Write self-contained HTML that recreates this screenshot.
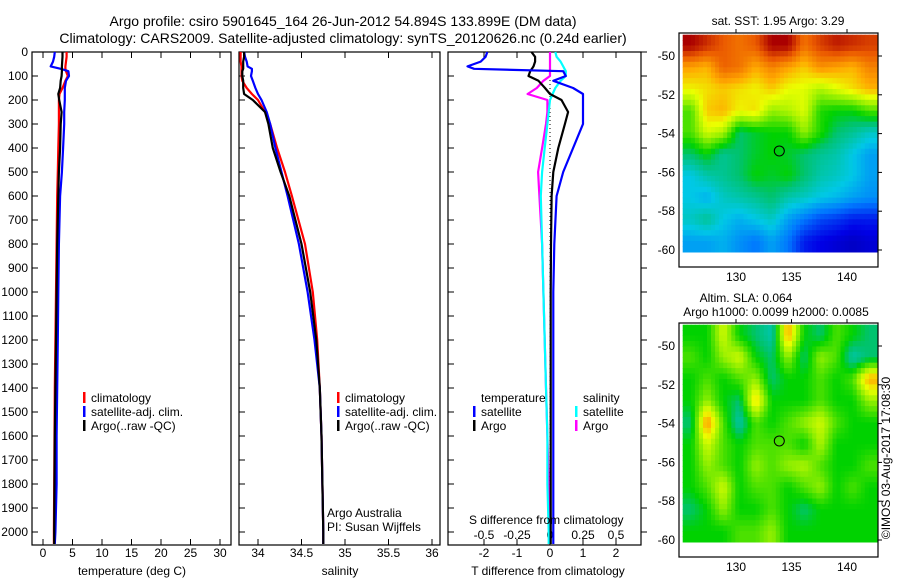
<!DOCTYPE html>
<html><head><meta charset="utf-8"><style>
body{margin:0;background:#fff;}
svg{display:block;font-family:"Liberation Sans",sans-serif;}
text{fill:#000;}
</style></head><body>
<svg id="fig" width="900" height="580" viewBox="0 0 900 580">
<rect x="0" y="0" width="900" height="580" fill="#fff"/>
<text x="343" y="26" font-size="14" text-anchor="middle">Argo profile: csiro 5901645_164 26-Jun-2012 54.894S 133.899E (DM data)</text>
<text x="343" y="43" font-size="14" text-anchor="middle">Climatology: CARS2009. Satellite-adjusted climatology: synTS_20120626.nc (0.24d earlier)</text>
<g id="plots"></g>
<g font-size="12">
<rect x="83" y="392" width="2.5" height="11" fill="#f00"/><text x="91" y="402">climatology</text>
<rect x="83" y="406" width="2.5" height="11" fill="#00f"/><text x="91" y="416">satellite-adj. clim.</text>
<rect x="83" y="420" width="2.5" height="11" fill="#000"/><text x="91" y="430">Argo(..raw -QC)</text>
</g>
<g font-size="12">
<rect x="337" y="392" width="2.5" height="11" fill="#f00"/><text x="345" y="402">climatology</text>
<rect x="337" y="406" width="2.5" height="11" fill="#00f"/><text x="345" y="416">satellite-adj. clim.</text>
<rect x="337" y="420" width="2.5" height="11" fill="#000"/><text x="345" y="430">Argo(..raw -QC)</text>
</g>
<g font-size="12">
<text x="481" y="402">temperature</text><text x="583" y="402">salinity</text>
<rect x="473" y="406" width="2.5" height="11" fill="#00f"/><text x="481" y="416">satellite</text>
<rect x="473" y="420" width="2.5" height="11" fill="#000"/><text x="481" y="430">Argo</text>
<rect x="575" y="406" width="2.5" height="11" fill="#0ff"/><text x="583" y="416">satellite</text>
<rect x="575" y="420" width="2.5" height="11" fill="#f0f"/><text x="583" y="430">Argo</text>
</g>
<text x="327" y="517" font-size="12">Argo Australia</text>
<text x="327" y="531" font-size="12">PI: Susan Wijffels</text>
<text x="469" y="524" font-size="12">S difference from climatology</text>
<text x="132" y="575" font-size="12" text-anchor="middle">temperature (deg C)</text>
<text x="340" y="575" font-size="12" text-anchor="middle">salinity</text>
<text x="548" y="575" font-size="12" text-anchor="middle">T difference from climatology</text>
<text x="778" y="25" font-size="12" text-anchor="middle">sat. SST: 1.95 Argo: 3.29</text>
<text x="746" y="302" font-size="12" text-anchor="middle">Altim. SLA: 0.064</text>
<text x="776" y="316" font-size="12" text-anchor="middle">Argo h1000: 0.0099 h2000: 0.0085</text>
<text x="0" y="0" font-size="12" text-anchor="middle" transform="translate(890,458) rotate(-90)">©IMOS 03-Aug-2017 17:08:30</text>
</svg>
<script>
const depths=[0,20,40,60,70,80,100,120,150,175,200,250,300,400,500,600,800,1000,1200,1400,1600,1800,2000,2050];
const tempClim=[4.0,4.0,3.9,3.8,3.8,3.9,4.2,3.8,3.3,2.8,2.7,2.7,2.7,2.6,2.5,2.4,2.3,2.2,2.1,2.0,1.95,1.9,1.85,1.85];
const tempSat=[2.0,1.9,1.7,1.3,3.0,4.3,4.4,3.9,3.7,3.7,3.7,3.6,3.6,3.4,3.2,2.9,2.7,2.6,2.5,2.4,2.3,2.3,2.1,2.0];
const tempArgo=[3.3,3.3,3.25,3.2,3.2,3.2,3.15,3.0,2.9,2.6,2.75,3.15,3.0,2.9,2.7,2.6,2.4,2.3,2.2,2.1,2.0,1.95,1.9,1.9];
const salClim=[33.80,33.80,33.80,33.81,33.81,33.81,33.81,33.82,33.87,33.93,34.0,34.08,34.14,34.22,34.31,34.39,34.54,34.63,34.68,34.71,34.73,34.74,34.75,34.75];
const salSat=[33.84,33.85,33.87,33.88,33.93,33.93,33.92,33.94,33.97,34.0,34.04,34.1,34.14,34.2,34.27,34.34,34.47,34.57,34.65,34.71,34.73,34.74,34.75,34.75];
const salArgo=[33.84,33.84,33.83,33.83,33.83,33.82,33.82,33.83,33.83,33.84,33.94,34.08,34.12,34.17,34.26,34.36,34.50,34.60,34.67,34.71,34.73,34.74,34.75,34.75];
const tDiffSat=[-1.9,-1.95,-2.1,-2.5,-2.3,0.4,0.48,0.1,0.7,1.0,1.0,1.0,1.0,0.7,0.4,0.2,0.13,0.1,0.1,0.1,0.1,0.1,0.1,0.1];
const tDiffArgo=[-0.56,-0.45,-0.45,-0.5,-0.55,-0.6,-0.65,-0.35,-0.15,0.0,0.35,0.55,0.45,0.25,0.1,0.05,0.03,0.02,0.02,0.02,0.02,0.02,0.02,0.02];
const sDiffSat=[0.04,0.05,0.08,0.1,0.11,0.12,0.12,0.08,0.04,0.02,0.0,-0.01,-0.02,-0.04,-0.06,-0.07,-0.06,-0.05,-0.04,-0.03,-0.02,-0.02,-0.01,-0.01];
const sDiffArgo=[0.0,0.0,0.0,0.0,0.0,0.0,0.0,-0.05,-0.1,-0.17,-0.02,-0.02,-0.03,-0.06,-0.09,-0.08,-0.06,-0.05,-0.04,-0.03,-0.02,-0.01,0.0,0.0];
const depthTicks=[0,100,200,300,400,500,600,700,800,900,1000,1100,1200,1300,1400,1500,1600,1700,1800,1900,2000];
const tempTicks=[0,5,10,15,20,25,30];
const salTicks=[34,34.5,35,35.5,36];
const tDiffTicks=[-2,-1,0,1,2];
const sDiffTicks=[-0.5,-0.25,0,0.25,0.5];
const sstGrid=[
[0.95,0.9,0.85,0.82,0.85,0.95,0.95,0.82,0.88,0.92,0.9,0.88],
[0.76,0.74,0.84,0.82,0.75,0.8,0.76,0.72,0.78,0.76,0.74,0.8],
[0.68,0.7,0.72,0.7,0.68,0.72,0.67,0.66,0.62,0.66,0.7,0.74],
[0.55,0.72,0.74,0.68,0.7,0.6,0.62,0.66,0.52,0.5,0.5,0.55],
[0.55,0.65,0.62,0.45,0.48,0.5,0.5,0.6,0.52,0.45,0.42,0.38],
[0.45,0.5,0.42,0.45,0.48,0.5,0.48,0.45,0.42,0.4,0.35,0.3],
[0.35,0.4,0.42,0.45,0.5,0.48,0.5,0.45,0.4,0.38,0.35,0.3],
[0.35,0.32,0.38,0.4,0.42,0.45,0.4,0.38,0.35,0.33,0.3,0.28],
[0.38,0.42,0.35,0.32,0.35,0.38,0.3,0.25,0.2,0.18,0.15,0.15],
[0.3,0.3,0.32,0.28,0.25,0.3,0.25,0.15,0.12,0.1,0.08,0.1]];
const slaGrid=[
[0.5,0.5,0.65,0.5,0.45,0.4,0.75,0.5,0.45,0.55,0.5,0.45],
[0.55,0.5,0.6,0.65,0.5,0.45,0.6,0.45,0.6,0.55,0.4,0.45],
[0.5,0.55,0.5,0.55,0.6,0.45,0.5,0.5,0.55,0.5,0.55,0.75],
[0.5,0.6,0.5,0.45,0.72,0.5,0.5,0.5,0.55,0.5,0.5,0.6],
[0.45,0.78,0.55,0.4,0.55,0.5,0.55,0.6,0.65,0.55,0.5,0.5],
[0.5,0.65,0.55,0.5,0.55,0.55,0.55,0.5,0.62,0.5,0.5,0.5],
[0.5,0.6,0.55,0.5,0.6,0.55,0.6,0.62,0.55,0.5,0.5,0.55],
[0.5,0.55,0.65,0.5,0.55,0.55,0.5,0.55,0.6,0.5,0.55,0.5],
[0.45,0.5,0.6,0.5,0.5,0.55,0.5,0.45,0.5,0.5,0.5,0.5],
[0.5,0.5,0.5,0.55,0.55,0.6,0.5,0.5,0.5,0.5,0.5,0.5]];
const lonTicks=[130,135,140];
const latTicks=[-50,-52,-54,-56,-58,-60];
const argoLon=[133.9];
const argoLat=[-54.894];

const NS='http://www.w3.org/2000/svg';
const root=document.getElementById('plots');
function mk(tag,attrs,parent){const e=document.createElementNS(NS,tag);for(const k in attrs)e.setAttribute(k,attrs[k]);(parent||root).appendChild(e);return e;}
const Y0=52,Y1=545;
const yD=d=>Y0+d*0.24;
function lin(d0,d1,r0,r1){return v=>r0+(v-d0)/(d1-d0)*(r1-r0);}

function panel(name,x0,x1,xs,ticks,fmt,showY){
  const g=mk('g',{});
  
  
  for(const t of ticks){
    const x=xs(t);
    const a=mk('line',{x1:x,x2:x,y1:Y0,y2:Y0+6,stroke:'#000'},g);
    
    
    const b=mk('line',{x1:x,x2:x,y1:Y1,y2:Y1-6,stroke:'#000'},g);
    
    
    const l=mk('text',{x:x,y:557,'font-size':12,'text-anchor':'middle'},g);
    
    
    l.textContent=fmt(t);
  }
  for(const d of depthTicks){
    const y=yD(d);
    const a=mk('line',{x1:x0,x2:x0+6,y1:y,y2:y,stroke:'#000'},g);
    
    
    if(showY){
      const l=mk('text',{x:x0-4,y:y+4,'font-size':12,'text-anchor':'end'},g);
      
      
      l.textContent=d;
    }
  }
  const r=mk('rect',{x:x0,y:Y0,width:x1-x0,height:Y1-Y0,fill:'none',stroke:'#000','stroke-width':1.2},g);
  
  
  return g;
}
function line(g,vals,xs,color,name,w){
  const pts=vals.map((v,i)=>xs(v).toFixed(1)+','+yD(depths[i]).toFixed(1)).join(' ');
  const p=mk('polyline',{points:pts,fill:'none',stroke:color,'stroke-width':w||2.2,'stroke-linejoin':'round'},g);
  
  
}
const xT=lin(0,30,43,220);
const p1=panel('temperature-panel',32,231,xT,tempTicks,t=>t,true);
line(p1,tempClim,xT,'#f00','temp-climatology-line');
line(p1,tempSat,xT,'#00f','temp-satellite-line');
line(p1,tempArgo,xT,'#000','temp-argo-line');
const xS=lin(34,36,258,432);
const p2=panel('salinity-panel',239,440,xS,salTicks,t=>t,false);
line(p2,salClim,xS,'#f00','sal-climatology-line');
line(p2,salSat,xS,'#00f','sal-satellite-line');
line(p2,salArgo,xS,'#000','sal-argo-line');
const xTD=lin(0,2,550,616);
const xSD=lin(0,0.5,550,616);
const p3=panel('difference-panel',448,641,xTD,tDiffTicks,t=>t,false);
for(const t of sDiffTicks){
  const l=mk('text',{x:xSD(t),y:539,'font-size':12,'text-anchor':'middle'},p3);
  
  
  l.textContent=t;
}
const zl=mk('line',{x1:xTD(0),x2:xTD(0),y1:Y0,y2:Y1,stroke:'#000','stroke-dasharray':'1,3'},p3);


line(p3,sDiffArgo,xSD,'#f0f','s-diff-argo-line');
line(p3,sDiffSat,xSD,'#0ff','s-diff-satellite-line');
line(p3,tDiffArgo,xTD,'#000','t-diff-argo-line');
line(p3,tDiffSat,xTD,'#00f','t-diff-satellite-line');
for(const d of depthTicks){
  const a=mk('line',{x1:641,x2:647,y1:yD(d),y2:yD(d),stroke:'#000'},p3);
  
  
}

const cmStops=[[0,[0,0,130]],[0.12,[0,0,230]],[0.25,[0,120,255]],[0.35,[0,200,230]],[0.45,[0,195,110]],[0.5,[0,210,0]],[0.6,[150,240,0]],[0.67,[235,255,0]],[0.75,[255,170,0]],[0.85,[235,90,0]],[0.95,[170,0,0]],[1,[140,0,0]]];
function cmap(v){
  v=Math.max(0,Math.min(1,v));
  for(let i=1;i<cmStops.length;i++){
    if(v<=cmStops[i][0]){
      const [a,ca]=cmStops[i-1],[b,cb]=cmStops[i];const f=(v-a)/(b-a);
      return 'rgb('+ca.map((c,k)=>Math.round(c+(cb[k]-c)*f)).join(',')+')';
    }
  }
  return 'rgb(140,0,0)';
}
function sample(grid,fi,fj){
  const nr=grid.length,nc=grid[0].length;
  const i=Math.max(0,Math.min(nr-1,fi)),j=Math.max(0,Math.min(nc-1,fj));
  const i0=Math.floor(i),j0=Math.floor(j),i1=Math.min(nr-1,i0+1),j1=Math.min(nc-1,j0+1);
  const a=i-i0,b=j-j0;
  return grid[i0][j0]*(1-a)*(1-b)+grid[i0][j1]*(1-a)*b+grid[i1][j0]*a*(1-b)+grid[i1][j1]*a*b;
}
function map(name,grid,top){
  const g=mk('g',{});
  
  
  const bx0=679,bx1=878,by0=top,by1=top+234;
  const xl=lin(130,140,736,847);
  const yl=lin(-50,-60,top+23,top+217);
  const lonA=125.2,lonB=142.7,latA=-48.9,latB=-60.1;
  const nr=grid.length,nc=grid[0].length;
  const sub=4;
  const dlon=(lonB-lonA)/(nc*sub),dlat=(latA-latB)/(nr*sub);
  for(let i=0;i<nr*sub;i++)for(let j=0;j<nc*sub;j++){
    const v=sample(grid,(i+0.5)/sub-0.5,(j+0.5)/sub-0.5);
    const x=xl(lonA+j*dlon),x2=xl(lonA+(j+1)*dlon);
    const y=yl(latA-i*dlat),y2=yl(latA-(i+1)*dlat);
    const c=mk('rect',{x:x.toFixed(1),y:y.toFixed(1),width:(x2-x+0.6).toFixed(1),height:(y2-y+0.6).toFixed(1),fill:cmap(v)},g);
    
    
  }
  for(const t of lonTicks){
    const x=xl(t);
    const a=mk('line',{x1:x,x2:x,y1:by0,y2:by0-4,stroke:'#000'},g);
    
    
    const l=mk('text',{x:x,y:by1+14,'font-size':12,'text-anchor':'middle'},g);
    
    
    l.textContent=t;
  }
  for(const t of latTicks){
    const y=yl(t);
    const a=mk('line',{x1:bx1,x2:bx1+4,y1:y,y2:y,stroke:'#000'},g);
    
    
    const l=mk('text',{x:bx0-4,y:y+4,'font-size':12,'text-anchor':'end'},g);
    
    
    l.textContent=t;
  }
  const ci=mk('circle',{cx:xl(argoLon[0]),cy:yl(argoLat[0]),r:5,fill:'none',stroke:'#000','stroke-width':1},g);
  
  
  const r=mk('rect',{x:bx0,y:by0,width:bx1-bx0,height:by1-by0,fill:'none',stroke:'#000','stroke-width':1.2},g);
  
  
}
map('sst-map',sstGrid,33);
map('sla-map',slaGrid,323);
</script>
</body></html>
